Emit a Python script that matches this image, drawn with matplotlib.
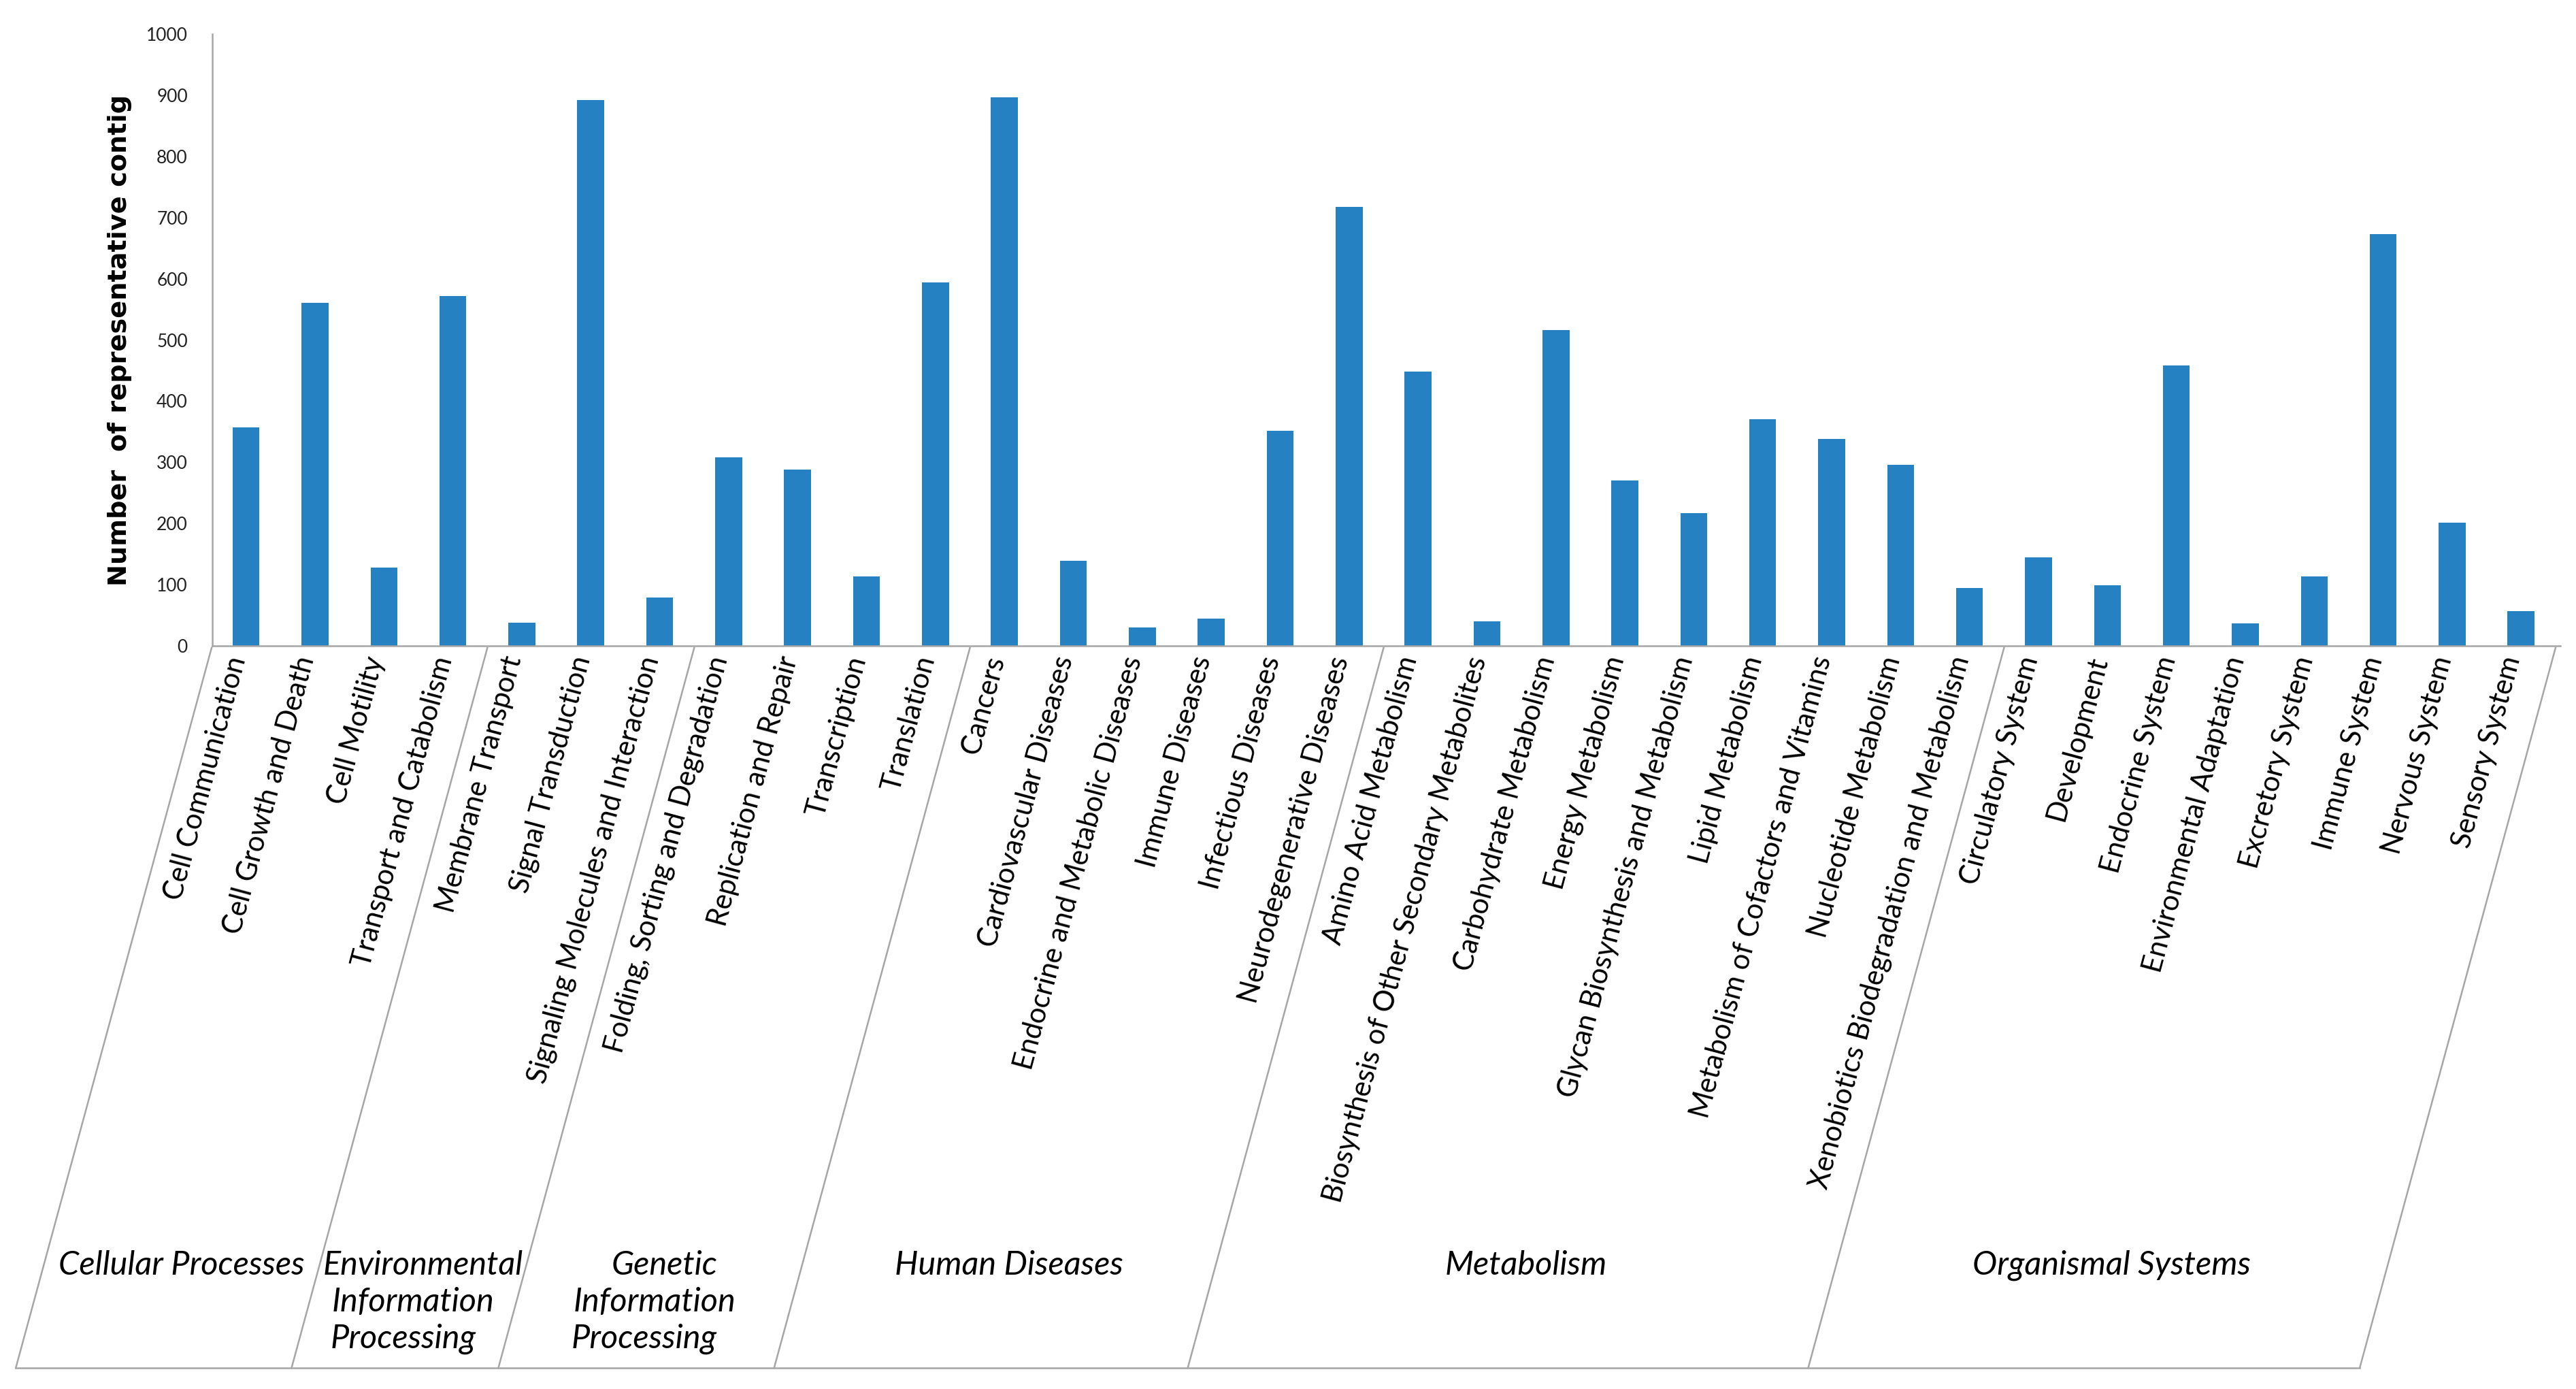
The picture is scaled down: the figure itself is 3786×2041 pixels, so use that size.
import numpy as np
import matplotlib
matplotlib.use('Agg')
import matplotlib.pyplot as plt
from matplotlib.lines import Line2D

# categories (KEGG pathways) and counts
categories = [
    'Cell Communication', 'Cell Growth and Death', 'Cell Motility', 'Transport and Catabolism',
    'Membrane Transport', 'Signal Transduction', 'Signaling Molecules and Interaction',
    'Folding, Sorting and Degradation', 'Replication and Repair', 'Transcription', 'Translation',
    'Cancers', 'Cardiovascular Diseases', 'Endocrine and Metabolic Diseases', 'Immune Diseases',
    'Infectious Diseases', 'Neurodegenerative Diseases',
    'Amino Acid Metabolism', 'Biosynthesis of Other Secondary Metabolites', 'Carbohydrate Metabolism',
    'Energy Metabolism', 'Glycan Biosynthesis and Metabolism', 'Lipid Metabolism',
    'Metabolism of Cofactors and Vitamins', 'Nucleotide Metabolism',
    'Xenobiotics Biodegradation and Metabolism',
    'Circulatory System', 'Development', 'Endocrine System', 'Environmental Adaptation',
    'Excretory System', 'Immune System', 'Nervous System', 'Sensory System',
]
counts = [357, 561, 128, 572,
          38, 892, 79,
          308, 288, 113, 594,
          896, 139, 30, 44, 352, 718,
          448, 40, 516, 270, 217, 370, 338, 296, 94,
          145, 99, 458, 37, 114, 673, 201, 57]

groups = [['Cellular Processes'],
          ['Environmental', 'Information', 'Processing'],
          ['Genetic', 'Information', 'Processing'],
          ['Human Diseases'],
          ['Metabolism'],
          ['Organismal Systems']]
group_sizes = [4, 3, 4, 6, 9, 8]

W, H = 3786, 2041
DPI = 100
BAR = '#2681C2'
LINE = '#a6a6a6'
SLANT = 0.272          # horizontal shift per pixel going down
TOP_Y, BOT_Y = 952, 2010

fig = plt.figure(figsize=(W / DPI, H / DPI), dpi=DPI)
ax = fig.add_axes([312 / W, 1 - 949 / H, (3763 - 312) / W, (949 - 50) / H])

x = np.arange(len(categories))
ax.bar(x, counts, width=0.39, color=BAR)
ax.set_xlim(-0.49, 33.57)
ax.set_ylim(0, 1000)
ax.set_yticks(range(0, 1001, 100))
ax.set_xticks([])
ax.tick_params(axis='y', length=0, pad=26, labelsize=19, labelcolor='#222222')
for lab in ax.get_yticklabels():
    lab.set_family('Lato')
for s in ['top', 'right']:
    ax.spines[s].set_visible(False)
for s in ['left', 'bottom']:
    ax.spines[s].set_color(LINE)
    ax.spines[s].set_linewidth(1.8)

ax.set_ylabel('Number  of representative contig', fontsize=27.5, fontweight='bold',
              family='DejaVu Sans', va='center')
ax.yaxis.set_label_coords(-0.0395, 0.5)

# slanted category labels
for i, name in enumerate(categories):
    ax.text(i - 0.12, -18, name, rotation=75, rotation_mode='anchor',
            ha='right', va='center', fontsize=30, family='Lato', clip_on=False)


def to_fig(px, py):
    # pixel (from top-left) -> figure fraction
    return px / W, 1 - py / H


def data_px(xd):
    return ax.transData.transform((xd, 0))[0]


# group parallelograms
bounds = np.concatenate([[0], np.cumsum(group_sizes)]) - 0.5
tops = [data_px(b) for b in bounds]
for xt in tops:
    x0, y0 = to_fig(xt, TOP_Y)
    x1, y1 = to_fig(xt - SLANT * (BOT_Y - TOP_Y), BOT_Y)
    fig.add_artist(Line2D([x0, x1], [y0, y1], color=LINE, lw=1.8))
x0, y0 = to_fig(tops[0] - SLANT * (BOT_Y - TOP_Y), BOT_Y)
x1, y1 = to_fig(tops[-1] - SLANT * (BOT_Y - TOP_Y), BOT_Y)
fig.add_artist(Line2D([x0, x1], [y0, y1], color=LINE, lw=1.8))

# group names
line_y = [1859, 1913, 1967]
for g, lines in enumerate(groups):
    mid = (tops[g] + tops[g + 1]) / 2
    for k, txt in enumerate(lines):
        py = line_y[k]
        px = mid - SLANT * (py - TOP_Y)
        fx, fy = to_fig(px, py)
        fig.text(fx, fy, txt, ha='center', va='center', fontsize=35,
                 family='Lato', style='italic')

fig.savefig('out.png', dpi=DPI, facecolor='white')
